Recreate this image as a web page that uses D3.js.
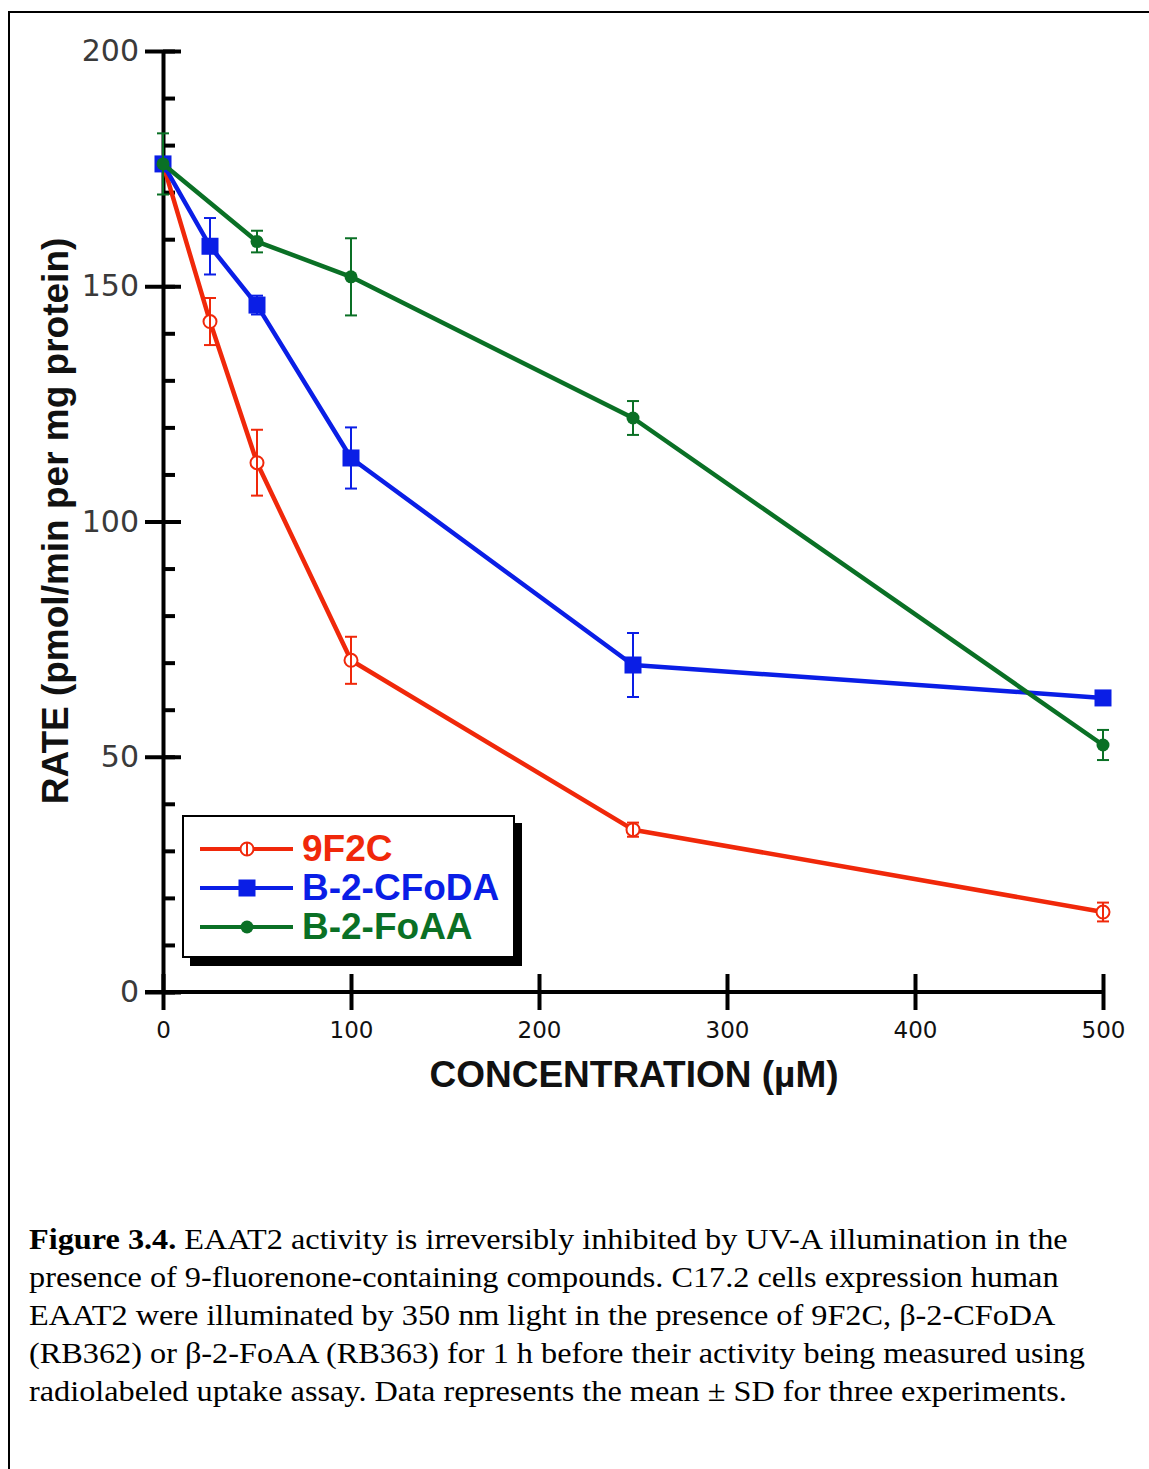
<!DOCTYPE html>
<html>
<head>
<meta charset="utf-8">
<script src="https://cdn.jsdelivr.net/npm/d3@7"></script>
<style>
body{margin:0;background:#fff;}
svg{display:block;}
</style>
</head>
<body>
<div id="chart"></div>
<script>
// concentrations (uM) and rates
var concentrations = [0, 25, 50, 100, 250, 500];
var rate9F2C = [176, 142.5, 112.5, 70.5, 34.5, 17];
var sd9F2C = [0, 5, 7, 5, 1.5, 2];
var rateCFoDA = [176, 158.5, 146, 113.5, 69.5, 62.5];
var sdCFoDA = [0, 6, 2, 6.5, 6.8, 0];
var concFoAA = [0, 50, 100, 250, 500];
var rateFoAA = [176, 159.5, 152, 122, 52.5];
var sdFoAA = [6.5, 2.3, 8.2, 3.6, 3.2];

var seriesNames = ["9F2C", "B-2-CFoDA", "B-2-FoAA"];
var xTicks = [0, 100, 200, 300, 400, 500];
var yTicks = [0, 50, 100, 150, 200];
var yMinorTicks = d3.range(0, 201, 10);

var captionLines = [
  [["Figure 3.4.", true], [" EAAT2 activity is irreversibly inhibited by UV-A illumination in the", false]],
  [["presence of 9-fluorenone-containing compounds. C17.2 cells expression human", false]],
  [["EAAT2 were illuminated by 350 nm light in the presence of 9F2C, \u03b2-2-CFoDA", false]],
  [["(RB362) or \u03b2-2-FoAA (RB363) for 1 h before their activity being measured using", false]],
  [["radiolabeled uptake assay. Data represents the mean \u00b1 SD for three experiments.", false]]
];

var colors = {"9F2C":"#f0280a", "B-2-CFoDA":"#0a1ee6", "B-2-FoAA":"#0a7025"};

function pack(xs, ys, sds){
  return xs.map(function(x,i){return {x:x, y:ys[i], sd:sds[i]};});
}
var series = [
  {name:"9F2C", marker:"open", data:pack(concentrations, rate9F2C, sd9F2C)},
  {name:"B-2-CFoDA", marker:"square", data:pack(concentrations, rateCFoDA, sdCFoDA)},
  {name:"B-2-FoAA", marker:"dot", data:pack(concFoAA, rateFoAA, sdFoAA)}
];

var svg = d3.select("#chart")
.append("svg")
.attr("width",1149)
.attr("height",1469)

// outer figure frame (runs off right and bottom)
svg.append("path")
.attr("d","M9,1469 V12 H1149")
.attr("fill","none")
.attr("stroke","#000")
.attr("stroke-width",2)

var xScale = d3.scaleLinear()
.domain([0,500])
.range([163,1103]);

var yScale = d3.scaleLinear()
.domain([0,200])
.range([992,51]);

// y axis: minor ticks inside, major ticks both sides
svg.append("g")
.attr("transform","translate(163,0)")
.call(d3.axisRight(yScale).tickValues(yMinorTicks).tickSize(12).tickSizeOuter(0).tickFormat(""))
.call(function(g){g.selectAll("line").attr("stroke-width",4); g.select(".domain").remove();})

svg.append("g")
.attr("transform","translate(163,0)")
.call(d3.axisRight(yScale).tickValues(yTicks).tickSize(18).tickSizeOuter(0).tickFormat(""))
.call(function(g){g.selectAll("line").attr("stroke-width",4); g.select(".domain").remove();})

var yAxis = svg.append("g")
.attr("transform","translate(163,0)")
.call(d3.axisLeft(yScale).tickValues(yTicks).tickSize(18).tickSizeOuter(0).tickPadding(6))
yAxis.selectAll("line").attr("stroke-width",4)
yAxis.select(".domain").attr("stroke-width",4)
yAxis.selectAll("text")
.attr("font-family","'DejaVu Sans', Verdana, sans-serif")
.attr("font-size",30)
.attr("fill","#3a3a3a")

// x axis
var xAxis = svg.append("g")
.attr("transform","translate(0,992)")
.call(d3.axisBottom(xScale).tickValues(xTicks).tickSize(18).tickSizeOuter(0).tickPadding(12))
xAxis.selectAll("line").attr("stroke-width",4)
xAxis.select(".domain").attr("stroke-width",4).attr("d","M145,0 H1103")
xAxis.selectAll("text")
.attr("font-family","'DejaVu Sans', Verdana, sans-serif")
.attr("font-size",23)
.attr("fill","#111")

svg.append("g")
.attr("transform","translate(0,992)")
.call(d3.axisTop(xScale).tickValues(xTicks).tickSize(18).tickSizeOuter(0).tickFormat(""))
.call(function(g){g.selectAll("line").attr("stroke-width",4); g.select(".domain").remove();})

// axis titles
svg.append("text")
.text("CONCENTRATION (\u00b5M)")
.attr("x",634)
.attr("y",1087)
.attr("text-anchor","middle")
.attr("font-family","'Liberation Sans', Arial, sans-serif")
.attr("font-weight","bold")
.attr("font-size",37)
.attr("fill","#111")

svg.append("text")
.text("RATE (pmol/min per mg protein)")
.attr("transform","translate(68,521) rotate(-90)")
.attr("text-anchor","middle")
.attr("font-family","'Liberation Sans', Arial, sans-serif")
.attr("font-weight","bold")
.attr("font-size",37)
.attr("fill","#111")

var line = d3.line()
.x(function(d){return xScale(d.x);})
.y(function(d){return yScale(d.y);});

function drawMarker(g, type, color, cx, cy){
  if(type=="open"){
    g.append("circle").attr("cx",cx).attr("cy",cy).attr("r",6.5)
    .attr("fill","#fff").attr("stroke",color).attr("stroke-width",2);
    g.append("line").attr("x1",cx).attr("x2",cx).attr("y1",cy-6).attr("y2",cy+6)
    .attr("stroke",color).attr("stroke-width",2);
  } else if(type=="square"){
    g.append("rect").attr("x",cx-8.5).attr("y",cy-8.5).attr("width",17).attr("height",17)
    .attr("fill",color);
  } else {
    g.append("circle").attr("cx",cx).attr("cy",cy).attr("r",6.5).attr("fill",color);
  }
}

series.forEach(function(s){
  var color = colors[s.name];
  var g = svg.append("g");

  g.append("path")
  .datum(s.data)
  .attr("d",line)
  .attr("fill","none")
  .attr("stroke",color)
  .attr("stroke-width",4.5)
  .attr("stroke-linejoin","round");

  s.data.filter(function(d){return d.sd>0;}).forEach(function(d){
    var cx = xScale(d.x), top = yScale(d.y+d.sd), bot = yScale(d.y-d.sd);
    g.append("line").attr("x1",cx).attr("x2",cx).attr("y1",top).attr("y2",bot)
    .attr("stroke",color).attr("stroke-width",2);
    g.append("line").attr("x1",cx-6).attr("x2",cx+6).attr("y1",top).attr("y2",top)
    .attr("stroke",color).attr("stroke-width",2);
    g.append("line").attr("x1",cx-6).attr("x2",cx+6).attr("y1",bot).attr("y2",bot)
    .attr("stroke",color).attr("stroke-width",2);
  });

  s.data.forEach(function(d){
    drawMarker(g, s.marker, color, xScale(d.x), yScale(d.y));
  });
});

// legend with drop shadow
var legend = svg.append("g")
legend.append("rect").attr("x",190).attr("y",823).attr("width",332).attr("height",143).attr("fill","#000")
legend.append("rect").attr("x",183).attr("y",816).attr("width",331).attr("height",141)
.attr("fill","#fff").attr("stroke","#000").attr("stroke-width",2)

series.forEach(function(s,i){
  var color = colors[s.name];
  var ly = 849 + i*39;
  legend.append("line").attr("x1",200).attr("x2",293).attr("y1",ly).attr("y2",ly)
  .attr("stroke",color).attr("stroke-width",4);
  drawMarker(legend, s.marker, color, 247, ly);
  legend.append("text")
  .text(seriesNames[i])
  .attr("x",302)
  .attr("y",ly+12)
  .attr("font-family","'Liberation Sans', Arial, sans-serif")
  .attr("font-weight","bold")
  .attr("font-size",37)
  .attr("fill",color);
});

// caption, Times-like face stretched a little wider as in the scan
var caption = svg.append("text")
.attr("transform","translate(29,0) scale(1.113,1)")
.attr("font-family","'Liberation Serif', 'Times New Roman', serif")
.attr("font-size",29)
.attr("fill","#000")

captionLines.forEach(function(parts,i){
  parts.forEach(function(p,j){
    var t = caption.append("tspan").text(p[0]);
    if(j==0) t.attr("x",0).attr("y",1249+i*38);
    if(p[1]) t.attr("font-weight","bold");
  });
});
</script>
</body>
</html>
